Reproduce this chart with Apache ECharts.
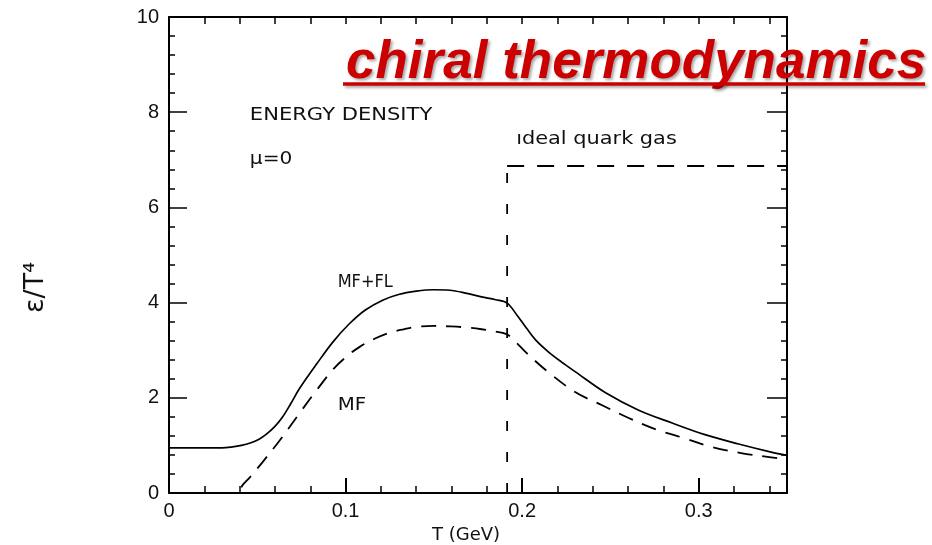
<!DOCTYPE html>
<html>
<head>
<meta charset="utf-8">
<title>Energy density</title>
<script src="https://cdn.jsdelivr.net/npm/echarts@6/dist/echarts.min.js"></script>
<style>
  html, body { margin: 0; padding: 0; background: #fff; }
  #chart { width: 932px; height: 545px; }
</style>
</head>
<body>
<div id="chart"></div>
<script>
// Temperature T (GeV) and energy density eps/T^4, mean field + fluctuations
const mfflT = [0, 0.01, 0.02, 0.03, 0.036, 0.041, 0.046, 0.051, 0.055, 0.06, 0.064, 0.069, 0.074,
  0.084, 0.093, 0.102, 0.111, 0.121, 0.130, 0.140, 0.150, 0.159, 0.168, 0.177, 0.185, 0.1915,
  0.197, 0.2025, 0.208, 0.215, 0.222, 0.230, 0.2475, 0.266, 0.285, 0.304, 0.3226, 0.341, 0.35];
const mfflE = [0.95, 0.95, 0.95, 0.95, 0.97, 1.0, 1.05, 1.13, 1.23, 1.40, 1.58, 1.88, 2.2,
  2.73, 3.18, 3.55, 3.84, 4.05, 4.17, 4.24, 4.27, 4.26, 4.2, 4.12, 4.06, 3.99,
  3.74, 3.46, 3.20, 2.96, 2.76, 2.55, 2.10, 1.74, 1.47, 1.22, 1.03, 0.86, 0.79];

// Mean field only
const mfT = [0, 0.038, 0.042, 0.046, 0.053, 0.063, 0.074, 0.084, 0.093, 0.101, 0.108, 0.117,
  0.125, 0.133, 0.140, 0.150, 0.159, 0.168, 0.177, 0.185, 0.1915, 0.197, 0.202, 0.2135,
  0.230, 0.245, 0.260, 0.277, 0.292, 0.307, 0.324, 0.341, 0.35];
const mfE = [0, 0, 0.18, 0.34, 0.65, 1.12, 1.68, 2.18, 2.60, 2.88, 3.07, 3.25,
  3.37, 3.44, 3.49, 3.51, 3.50, 3.48, 3.44, 3.39, 3.33, 3.15, 2.96, 2.58,
  2.12, 1.85, 1.58, 1.32, 1.15, 0.97, 0.84, 0.75, 0.70];

// Ideal quark gas: jump at Tc, then constant
const qgpRiseT = [0.1915, 0.1915];
const qgpRiseE = [0, 6.87];
const qgpFlatT = [0.1915, 0.35];
const qgpFlatE = [6.87, 6.87];

// Axis ticks
const xTickLabels = ['0', '0.1', '0.2', '0.3'];
const yTickLabels = ['0', '2', '4', '6', '8', '10'];

// In-plot annotations (left edge T, centre eps/T^4, text)
const noteT = [0.0458, 0.0458, 0.1966, 0.0955, 0.0955];
const noteE = [7.94, 7.0, 7.42, 4.43, 1.85];
const noteText = ['ENERGY DENSITY', 'μ=0', 'ıdeal quark gas', 'MF+FL', 'MF'];
const noteStretch = [1.17, 1.12, 1.16, 0.9, 1.1];

const zip = (xs, ys) => xs.map((x, i) => [x, ys[i]]);
const fmt = v => String(Math.round(v * 1000) / 1000);

const chart = echarts.init(document.getElementById('chart'));

const INK = '#000';
const tickFont = { fontFamily: 'Liberation Sans', fontSize: 20, color: '#111' };

chart.setOption({
  backgroundColor: '#fff',
  animation: false,
  grid: { left: 169, right: 145, top: 17, bottom: 52, containLabel: false },
  xAxis: [
    {
      type: 'value', min: 0, max: 0.35, interval: 0.1, position: 'bottom',
      axisLine: { show: true, onZero: false, lineStyle: { color: INK, width: 2 } },
      axisTick: { show: true, inside: true, length: 15, lineStyle: { color: INK, width: 2 } },
      axisLabel: Object.assign({
        margin: 8,
        formatter: v => (xTickLabels.indexOf(fmt(v)) >= 0 ? fmt(v) : '')
      }, tickFont),
      splitLine: { show: false }
    },
    {
      type: 'value', min: 0, max: 0.35, interval: 0.02, position: 'bottom',
      axisLine: { show: false },
      axisTick: { show: true, inside: true, length: 7, lineStyle: { color: INK, width: 1.5 } },
      axisLabel: { show: false },
      splitLine: { show: false }
    },
    {
      type: 'value', min: 0, max: 0.35, interval: 0.02, position: 'top',
      axisLine: { show: true, onZero: false, lineStyle: { color: INK, width: 2 } },
      axisTick: { show: true, inside: true, length: 7, lineStyle: { color: INK, width: 1.5 } },
      axisLabel: { show: false },
      splitLine: { show: false }
    }
  ],
  yAxis: [
    {
      type: 'value', min: 0, max: 10, interval: 2, position: 'left',
      axisLine: { show: true, onZero: false, lineStyle: { color: INK, width: 2 } },
      axisTick: { show: true, inside: true, length: 18, lineStyle: { color: INK, width: 1.5 } },
      minorTick: { show: true, splitNumber: 5, length: 6, lineStyle: { color: INK, width: 1.5 } },
      axisLabel: Object.assign({
        margin: 10,
        formatter: v => (yTickLabels.indexOf(fmt(v)) >= 0 ? fmt(v) : '')
      }, tickFont),
      splitLine: { show: false }
    },
    {
      type: 'value', min: 0, max: 10, interval: 2, position: 'right',
      axisLine: { show: true, onZero: false, lineStyle: { color: INK, width: 2 } },
      axisTick: { show: true, inside: true, length: 20, lineStyle: { color: INK, width: 1.5 } },
      minorTick: { show: true, splitNumber: 5, length: 6, lineStyle: { color: INK, width: 1.5 } },
      axisLabel: { show: false },
      splitLine: { show: false }
    }
  ],
  series: [
    {
      name: 'MF+FL', type: 'line', xAxisIndex: 0, yAxisIndex: 0,
      data: zip(mfflT, mfflE), showSymbol: false, smooth: 0.35,
      lineStyle: { color: INK, width: 1.7 }
    },
    {
      name: 'MF', type: 'line', xAxisIndex: 0, yAxisIndex: 0,
      data: zip(mfT, mfE), showSymbol: false, smooth: 0.35,
      lineStyle: { color: INK, width: 1.8, type: [15, 10] }
    },
    {
      name: 'ideal quark gas (jump)', type: 'line', xAxisIndex: 0, yAxisIndex: 0,
      data: zip(qgpRiseT, qgpRiseE), showSymbol: false,
      lineStyle: { color: INK, width: 1.8, type: [10, 21] }
    },
    {
      name: 'ideal quark gas', type: 'line', xAxisIndex: 0, yAxisIndex: 0,
      data: zip(qgpFlatT, qgpFlatE), showSymbol: false,
      lineStyle: { color: INK, width: 1.8, type: [17, 13] }
    }
  ]
});

// Annotations placed in data coordinates, slightly stretched like typewriter lettering
const notes = noteT.map((t, i) => {
  const p = chart.convertToPixel({ xAxisIndex: 0, yAxisIndex: 0 }, [t, noteE[i]]);
  return {
    type: 'text', x: p[0], y: p[1], scaleX: noteStretch[i], silent: true,
    style: {
      text: noteText[i], fontFamily: 'DejaVu Sans', fontSize: 18, fill: '#111',
      textAlign: 'left', textVerticalAlign: 'middle'
    }
  };
});

chart.setOption({
  graphic: notes.concat([
    {
      type: 'text', x: 22, y: 313, rotation: Math.PI / 2,
      style: { text: 'ε/T⁴', fontFamily: 'DejaVu Sans', fontSize: 27, fill: '#111' }
    },
    {
      type: 'text', x: 432, y: 535,
      style: { text: 'T (GeV)', fontFamily: 'DejaVu Sans', fontSize: 18, fill: '#111',
        textVerticalAlign: 'middle' }
    },
    {
      type: 'text', left: 346, top: 37, z: 100,
      style: {
        text: 'chiral thermodynamics',
        fontFamily: 'Liberation Sans', fontWeight: 'bold', fontStyle: 'italic',
        fontSize: 53, fill: '#cc0000',
        textShadowColor: 'rgba(0,0,0,0.35)', textShadowBlur: 3,
        textShadowOffsetX: 2, textShadowOffsetY: 2
      }
    },
    {
      type: 'line', z: 100,
      shape: { x1: 343, y1: 84, x2: 925, y2: 84 },
      style: { stroke: '#cc0000', lineWidth: 3.5,
        shadowColor: 'rgba(0,0,0,0.35)', shadowBlur: 3, shadowOffsetX: 2, shadowOffsetY: 2 }
    }
  ])
});
</script>
</body>
</html>
